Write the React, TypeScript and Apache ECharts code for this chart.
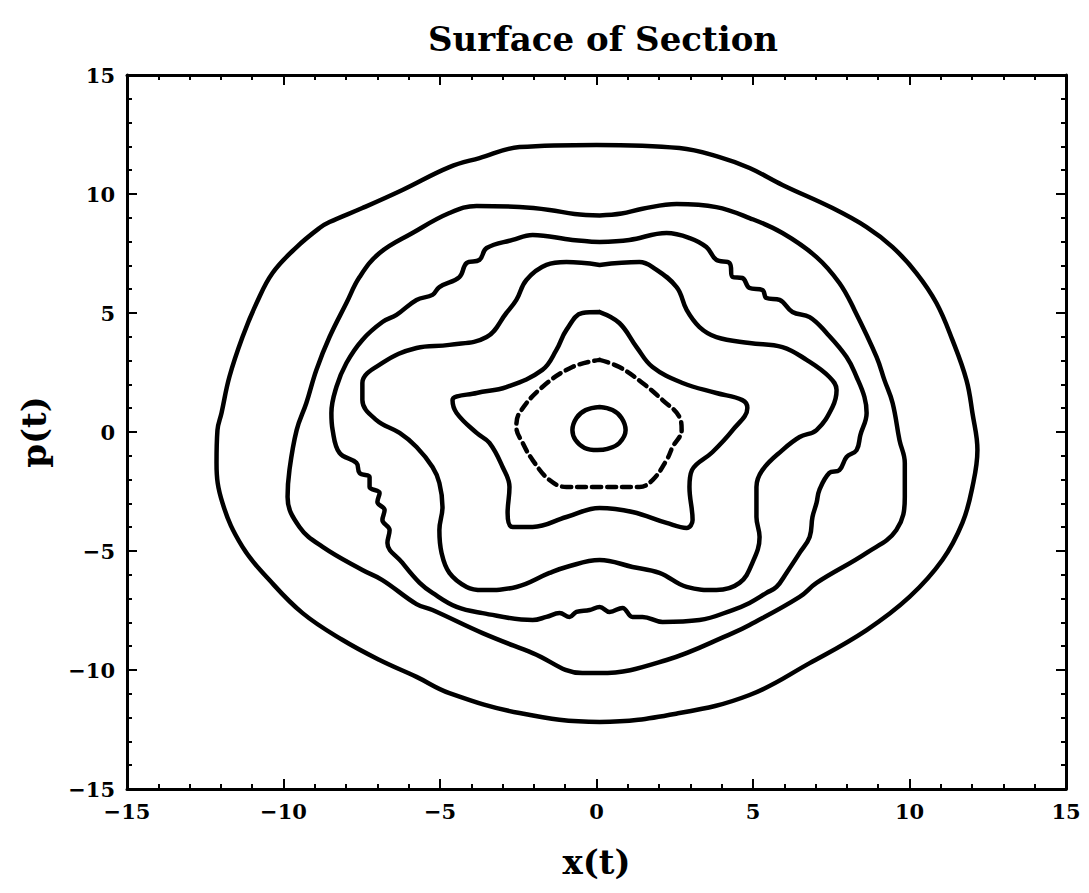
import React, { useEffect, useRef } from "react";
import * as echarts from "echarts";

// Axis ranges and ticks
const xRange = [-15, 15];
const yRange = [-15, 15];
const tickStep = 5;

// Closed invariant curves of the Poincaré section, as [x(t), p(t)] pairs
const orbitCore: number[][] = [
  [0.1, 1.05], [0.51, 0.92], [0.8, 0.59], [0.93, 0.08], [0.73, -0.46], [0.35, -0.71],
  [0.03, -0.76], [-0.38, -0.67], [-0.67, -0.34], [-0.77, 0.08], [-0.64, 0.59], [-0.35, 0.92],
  [0.1, 1.05],
];

const orbitPentagon: number[][] = [
  [0.1, 3.03], [0.73, 2.73], [1.47, 2.06], [2.11, 1.34], [2.65, 0.63], [2.72, 0.08],
  [2.43, -0.63], [2.24, -1.18], [1.79, -2.02], [1.37, -2.31], [0.1, -2.31], [-0.96, -2.31],
  [-1.5, -2.02], [-2.04, -1.18], [-2.36, -0.46], [-2.56, 0.21], [-2.46, 0.8], [-1.73, 1.89],
  [-0.77, 2.73], [0.1, 3.03],
];

const orbitStar: number[][] = [
  [0.1, 5.04], [0.73, 4.58], [1.28, 3.57], [1.79, 2.73], [2.75, 2.06], [3.83, 1.64],
  [4.66, 1.34], [4.82, 1.01], [4.35, 0.08], [3.7, -0.85], [3.05, -1.6], [2.97, -2.31],
  [3.07, -3.7], [2.88, -4.03], [2.24, -3.82], [1.15, -3.36], [0.1, -3.19], [-0.96, -3.57],
  [-2.04, -3.99], [-2.68, -3.99], [-2.84, -3.4], [-2.78, -2.31], [-3.0, -1.47], [-3.42, -0.46],
  [-3.83, -0.04], [-4.47, 0.8], [-4.6, 1.34], [-3.83, 1.64], [-2.88, 1.89], [-1.73, 2.61],
  [-1.28, 3.45], [-0.96, 4.29], [-0.45, 5.0], [0.1, 5.04],
];

const orbitLobed: number[][] = [
  [0.1, 7.02], [1.37, 7.14], [1.79, 6.93], [2.56, 6.09], [2.88, 5.13], [3.29, 4.41],
  [3.83, 3.99], [4.89, 3.74], [5.94, 3.57], [6.71, 3.03], [7.44, 2.31], [7.67, 1.76],
  [7.54, 1.05], [7.03, 0.08], [6.49, -0.21], [5.94, -0.76], [5.3, -1.6], [5.11, -2.31],
  [5.11, -3.57], [5.21, -4.41], [4.98, -5.5], [4.57, -6.34], [3.83, -6.64], [2.88, -6.51],
  [2.01, -5.92], [1.15, -5.67], [0.1, -5.38], [-0.96, -5.67], [-1.5, -5.92], [-2.56, -6.51],
  [-3.64, -6.64], [-4.15, -6.51], [-4.7, -5.92], [-4.95, -5.08], [-5.02, -4.12], [-4.92, -3.15],
  [-5.02, -2.14], [-5.24, -1.47], [-5.75, -0.63], [-6.29, -0.04], [-7.03, 0.5], [-7.48, 1.34],
  [-7.48, 2.06], [-6.84, 2.9], [-5.75, 3.53], [-4.7, 3.66], [-3.51, 3.99], [-2.88, 5.0],
  [-2.56, 5.55], [-2.24, 6.39], [-1.6, 7.02], [-0.96, 7.14], [0.1, 7.02],
];

const orbitRippled: number[][] = [
  [0.1, 7.98], [1.05, 8.07], [2.24, 8.36], [2.98, 8.15], [3.51, 7.77], [3.83, 7.23],
  [4.25, 7.1], [4.35, 6.51], [4.66, 6.47], [4.89, 6.05], [5.3, 5.97], [5.43, 5.63],
  [5.85, 5.55], [6.26, 5.04], [6.81, 4.83], [7.35, 4.16], [7.99, 3.15], [8.31, 2.31],
  [8.56, 1.47], [8.63, 0.8], [8.43, -0.13], [8.31, -0.76], [7.99, -1.05], [7.76, -1.6],
  [7.44, -1.72], [7.12, -2.44], [7.03, -2.98], [6.9, -3.57], [6.81, -4.41], [6.49, -5.08],
  [6.07, -5.92], [5.75, -6.51], [5.43, -6.76], [4.89, -7.18], [4.35, -7.48], [3.29, -7.9],
  [2.11, -7.98], [1.47, -7.77], [1.15, -7.77], [0.83, -7.39], [0.42, -7.56], [0.1, -7.35],
  [-0.22, -7.48], [-0.64, -7.56], [-0.86, -7.77], [-1.18, -7.61], [-1.6, -7.77], [-2.04, -7.9],
  [-3.64, -7.61], [-4.47, -7.35], [-5.24, -6.76], [-5.65, -6.34], [-6.2, -5.5], [-6.68, -4.66],
  [-6.61, -4.12], [-6.84, -3.7], [-6.77, -3.28], [-7.0, -2.94], [-6.93, -2.56], [-7.25, -2.31],
  [-7.25, -1.89], [-7.57, -1.72], [-7.67, -1.3], [-8.21, -0.88], [-8.43, 0.08], [-8.47, 0.8],
  [-8.31, 1.89], [-7.99, 2.9], [-7.48, 3.87], [-6.84, 4.62], [-6.39, 4.92], [-5.75, 5.55],
  [-5.24, 5.76], [-5.02, 6.09], [-4.38, 6.51], [-4.15, 7.1], [-3.74, 7.23], [-3.51, 7.73],
  [-2.68, 8.07], [-2.04, 8.28], [-0.77, 8.07], [0.1, 7.98],
];

const orbitWide: number[][] = [
  [0.1, 9.1], [0.8, 9.18], [1.47, 9.38], [2.56, 9.58], [3.83, 9.45], [4.89, 8.99], [5.94, 8.36],
  [7.03, 7.35], [7.76, 6.26], [8.24, 5.13], [8.95, 3.15], [9.2, 2.18], [9.46, 1.22],
  [9.68, -0.34], [9.85, -1.3], [9.85, -2.73], [9.58, -4.12], [8.63, -5.08], [7.03, -6.34],
  [6.49, -6.93], [4.89, -8.11], [4.35, -8.45], [2.24, -9.58], [0.1, -10.13], [-0.45, -10.13],
  [-2.04, -9.29], [-3.64, -8.45], [-5.24, -7.48], [-5.75, -7.23], [-6.84, -6.22], [-7.48, -5.8],
  [-8.75, -4.83], [-9.49, -3.99], [-9.87, -2.73], [-9.81, -1.6], [-9.58, 0.08], [-9.27, 1.22],
  [-8.95, 2.61], [-8.53, 3.99], [-7.99, 5.42], [-7.57, 6.51], [-6.93, 7.52], [-5.88, 8.36],
  [-4.7, 9.2], [-3.83, 9.5], [-2.46, 9.45], [-1.5, 9.33], [-0.7, 9.16], [0.1, 9.1],
];

const orbitOuter: number[][] = [
  [0.0, 12.06], [2.65, 11.93], [3.93, 11.55], [4.89, 11.09], [5.94, 10.38], [7.54, 9.41],
  [8.63, 8.61], [9.46, 7.77], [10.22, 6.68], [10.86, 5.42], [11.37, 3.87], [11.82, 2.18],
  [12.01, 0.8], [12.17, -0.76], [12.01, -2.31], [11.69, -3.82], [11.05, -5.38], [10.0, -6.93],
  [8.63, -8.32], [6.81, -9.71], [4.89, -11.05], [2.65, -11.81], [0.1, -12.18], [-2.46, -11.81],
  [-4.7, -10.97], [-5.75, -10.29], [-6.93, -9.58], [-8.11, -8.74], [-9.39, -7.61], [-10.45, -6.22],
  [-11.31, -4.83], [-11.95, -2.98], [-12.14, -1.3], [-12.11, 0.08], [-11.98, 0.8], [-11.73, 2.31],
  [-11.31, 3.99], [-10.86, 5.42], [-10.35, 6.68], [-9.58, 7.77], [-8.85, 8.57], [-8.53, 8.82],
  [-7.48, 9.41], [-6.2, 10.17], [-4.7, 11.13], [-3.74, 11.51], [-2.46, 11.97], [0.0, 12.06],
];

const solidOrbits = [orbitCore, orbitStar, orbitLobed, orbitRippled, orbitWide, orbitOuter];
const dashedOrbits = [orbitPentagon];

const FONT = "'DejaVu Serif', 'Liberation Serif', serif";
const INK = "#000";

const minusLabel = (v: number) => String(v).replace("-", "\u2212");

function frameAxis(position: string, showLabels: boolean, range: number[]) {
  return {
    type: "value",
    position,
    min: range[0],
    max: range[1],
    interval: tickStep,
    axisLine: { show: true, onZero: false, lineStyle: { color: INK, width: 3 } },
    axisTick: { show: true, inside: true, length: 10, lineStyle: { color: INK, width: 2 } },
    minorTick: { show: true, splitNumber: 5, length: 5, lineStyle: { color: INK, width: 2 } },
    splitLine: { show: false },
    minorSplitLine: { show: false },
    axisLabel: {
      show: showLabels,
      color: INK,
      fontFamily: FONT,
      fontWeight: "bold",
      fontSize: 21,
      margin: 12,
      formatter: minusLabel,
    },
  };
}

export default function App() {
  const ref = useRef<HTMLDivElement>(null);

  useEffect(() => {
    if (!ref.current) return;
    const chart = echarts.init(ref.current, null, { renderer: "svg" });

    const lineStyle = { color: INK, width: 4.5, cap: "round", join: "round" };

    const series: any[] = [
      ...solidOrbits.map((pts, i) => ({
        type: "line",
        name: "orbit" + i,
        data: pts,
        xAxisIndex: 0,
        yAxisIndex: 0,
        symbol: "none",
        smooth: 0.4,
        lineStyle: { ...lineStyle, type: "solid" },
        silent: true,
      })),
      ...dashedOrbits.map((pts, i) => ({
        type: "line",
        name: "dashed" + i,
        data: pts,
        xAxisIndex: 0,
        yAxisIndex: 0,
        symbol: "none",
        smooth: 0.4,
        lineStyle: { ...lineStyle, type: [9, 6] },
        silent: true,
      })),
    ];

    chart.setOption({
      animation: false,
      backgroundColor: "#fff",
      title: {
        text: "Surface of Section",
        left: 598,
        textAlign: "center",
        top: 17,
        textStyle: { fontFamily: FONT, fontWeight: "bold", fontSize: 34, color: INK },
      },
      grid: { left: 127, top: 75, width: 939, height: 714, containLabel: false, outerBoundsMode: "none" },
      xAxis: [
        {
          ...frameAxis("bottom", true, xRange),
          name: "x(t)",
          nameLocation: "middle",
          nameGap: 56,
          nameTextStyle: { fontFamily: FONT, fontWeight: "bold", fontSize: 34, color: INK },
        },
        frameAxis("top", false, xRange),
      ],
      yAxis: [
        {
          ...frameAxis("left", true, yRange),
          name: "p(t)",
          nameLocation: "middle",
          nameGap: 76,
          nameRotate: 90,
          nameTextStyle: { fontFamily: FONT, fontWeight: "bold", fontSize: 34, color: INK },
        },
        frameAxis("right", false, yRange),
      ],
      series,
    });

    return () => chart.dispose();
  }, []);

  return (
    <div
      ref={ref}
      style={{ position: "absolute", left: 0, top: 0, width: 1089, height: 893, background: "#fff" }}
    />
  );
}
